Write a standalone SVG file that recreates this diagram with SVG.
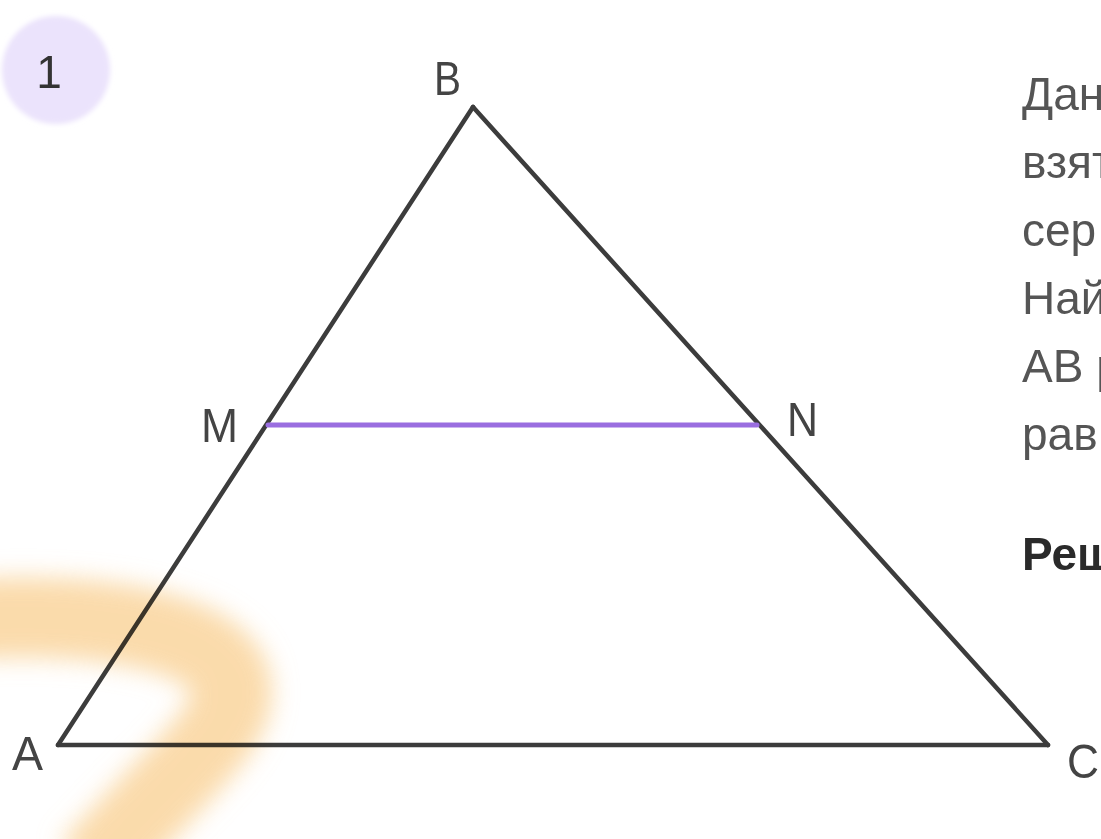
<svg xmlns="http://www.w3.org/2000/svg" width="1101" height="839" viewBox="0 0 1101 839">
  <defs>
    <filter id="blur" x="-50%" y="-50%" width="200%" height="200%">
      <feGaussianBlur stdDeviation="12"/>
    </filter>
    <filter id="soft" x="-20%" y="-20%" width="140%" height="140%">
      <feGaussianBlur stdDeviation="2.5"/>
    </filter>
  </defs>
  <style>
    .edge { stroke: #3c3c3c; stroke-width: 4.5; stroke-linecap: round; fill: none; }
    .mid { stroke: #9a6ee0; stroke-width: 5; stroke-linecap: round; }
    .lbl { font-family: "Liberation Sans", Arial, sans-serif; font-size: 48px; fill: #444; }
    .txt { font-family: "Liberation Sans", Arial, sans-serif; font-size: 46px; fill: #555; }
    .bold { font-weight: bold; fill: #2a2a2a; }
  </style>
  <rect width="1101" height="839" fill="#ffffff"/>

  <g id="badge">
    <circle cx="56" cy="70" r="54" fill="#ebe3fc" filter="url(#soft)"/>
    <text x="49" y="88" text-anchor="middle" style="font-family:'Liberation Sans',Arial,sans-serif;font-size:46px;fill:#333">1</text>
  </g>

  <g id="connectors">
    <line id="AB" class="edge" x1="58" y1="745" x2="473" y2="107"/>
    <line id="BC" class="edge" x1="473" y1="107" x2="1048" y2="745"/>
    <line id="AC" class="edge" x1="58" y1="745" x2="1048" y2="745"/>
    <line id="MN" class="mid" x1="268" y1="425" x2="757" y2="425"/>
  </g>

  <g id="watermark" style="mix-blend-mode:multiply" opacity="0.75">
    <path d="M -40 620 C 90 610 230 630 232 690 C 234 730 180 770 90 870" stroke="#f9cf8f" stroke-width="80" fill="none" filter="url(#blur)"/>
  </g>

  <g id="node-A"><text class="lbl" x="12" y="770" textLength="31" lengthAdjust="spacingAndGlyphs">A</text></g>
  <g id="node-B"><text class="lbl" x="434" y="95" textLength="27" lengthAdjust="spacingAndGlyphs">B</text></g>
  <g id="node-C"><text class="lbl" x="1067" y="778" textLength="32" lengthAdjust="spacingAndGlyphs">C</text></g>
  <g id="node-M"><text class="lbl" x="201" y="442" textLength="37" lengthAdjust="spacingAndGlyphs">M</text></g>
  <g id="node-N"><text class="lbl" x="787" y="436" textLength="31" lengthAdjust="spacingAndGlyphs">N</text></g>

  <g id="problem-text">
    <text class="txt" x="1022" y="110">Дан</text>
    <text class="txt" x="1022" y="178">взят</text>
    <text class="txt" x="1022" y="246">сер</text>
    <text class="txt" x="1022" y="314">Най</text>
    <text class="txt" x="1022" y="382">АВ р</text>
    <text class="txt" x="1022" y="450">рав</text>
    <text class="txt bold" x="1022" y="570">Реш</text>
  </g>
</svg>
